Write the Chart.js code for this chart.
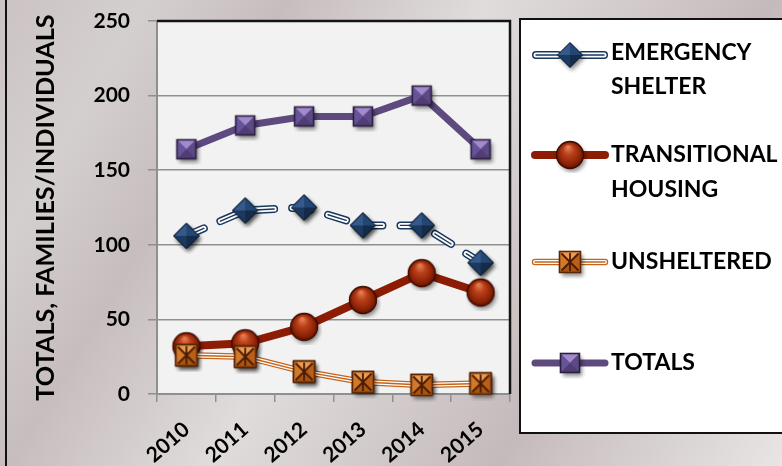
<!DOCTYPE html>
<html>
<head>
<meta charset="utf-8">
<script src="https://cdn.jsdelivr.net/npm/chart.js@4.4.1/dist/chart.umd.min.js"></script>
<style>
  html, body { margin: 0; padding: 0; background: #d8d3d3; }
  #wrap { width: 782px; height: 466px; }
</style>
</head>
<body>
<div id="wrap"><canvas id="chart" width="782" height="466"></canvas></div>
<script>
// ---- data ----
const years = ['2010', '2011', '2012', '2013', '2014', '2015'];
const emergencyShelter = [106, 123, 125, 113, 113, 88];
const transitionalHousing = [32, 34, 45, 63, 81, 68];
const unsheltered = [26, 25, 15, 8, 6, 7];
const totals = [164, 180, 186, 186, 200, 164];
const yTicks = [0, 50, 100, 150, 200, 250];
const seriesNames = [
  ['EMERGENCY', 'SHELTER'],
  ['TRANSITIONAL', 'HOUSING'],
  ['UNSHELTERED'],
  ['TOTALS']
];
const axisTitle = 'TOTALS, FAMILIES/INDIVIDUALS';

// ---- colours ----
const NAVY = '#19375c';
const RUST = '#8c1c04';
const ORANGE = '#c2641c';
const PURPLE = '#5e4a7e';
const FONT = 'Lato, "Open Sans", sans-serif';

// ---- bevelled marker sprites ----
function sprite(size, shape) {
  const c = document.createElement('canvas');
  c.width = c.height = size;
  const g = c.getContext('2d');
  g.translate(size / 2, size / 2);
  g.save();
  g.shadowColor = 'rgba(0,0,0,0.45)';
  g.shadowBlur = 4;
  g.shadowOffsetX = 2;
  g.shadowOffsetY = 3;
  shape(g, true);
  g.restore();
  shape(g, false);
  return c;
}
function tri(g, pts, fill) {
  g.beginPath();
  g.moveTo(pts[0][0], pts[0][1]);
  for (let i = 1; i < pts.length; i++) g.lineTo(pts[i][0], pts[i][1]);
  g.closePath();
  g.fillStyle = fill;
  g.fill();
}
function bevelSquare(g, h, cols, edge) {
  tri(g, [[-h, -h], [h, -h], [0, 0]], cols[0]);
  tri(g, [[h, -h], [h, h], [0, 0]], cols[1]);
  tri(g, [[h, h], [-h, h], [0, 0]], cols[2]);
  tri(g, [[-h, h], [-h, -h], [0, 0]], cols[3]);
  g.lineWidth = 1.6;
  g.strokeStyle = edge;
  g.strokeRect(-h, -h, 2 * h, 2 * h);
}

const diamondMark = sprite(36, (g, silhouette) => {
  const h = 12.5;
  if (silhouette) { tri(g, [[0, -h], [h, 0], [0, h], [-h, 0]], NAVY); return; }
  tri(g, [[-h, 0], [0, -h], [0, 0]], '#35598a');
  tri(g, [[0, -h], [h, 0], [0, 0]], '#244672');
  tri(g, [[h, 0], [0, h], [0, 0]], '#142c4a');
  tri(g, [[0, h], [-h, 0], [0, 0]], '#1c3a60');
  g.beginPath();
  g.moveTo(0, -h); g.lineTo(h, 0); g.lineTo(0, h); g.lineTo(-h, 0); g.closePath();
  g.lineWidth = 1; g.strokeStyle = '#0e1f35'; g.stroke();
});

const circleMark = sprite(36, (g, silhouette) => {
  const r = 13.5;
  g.beginPath();
  g.arc(0, 0, r, 0, Math.PI * 2);
  if (silhouette) { g.fillStyle = RUST; g.fill(); return; }
  const grad = g.createRadialGradient(-2, -8, 1, 0, 0, r);
  grad.addColorStop(0, '#e47c52');
  grad.addColorStop(0.35, '#b9401a');
  grad.addColorStop(0.8, '#8c2206');
  grad.addColorStop(1, '#5c1300');
  g.fillStyle = grad;
  g.fill();
  g.lineWidth = 1.3; g.strokeStyle = '#3e0c00'; g.stroke();
});

const crossSquareMark = sprite(34, (g, silhouette) => {
  const h = 10.5;
  if (silhouette) { g.fillStyle = ORANGE; g.fillRect(-h, -h, 2 * h, 2 * h); return; }
  bevelSquare(g, h, ['#eb9a4e', '#b95f17', '#a9540f', '#d27a2a'], '#5a2606');
  g.strokeStyle = '#4a1c04';
  g.lineWidth = 1.8;
  g.beginPath();
  g.moveTo(-h + 2, -h + 2); g.lineTo(h - 2, h - 2);
  g.moveTo(h - 2, -h + 2); g.lineTo(-h + 2, h - 2);
  g.moveTo(0, -h + 1.5); g.lineTo(0, h - 1.5);
  g.stroke();
});

const squareMark = sprite(32, (g, silhouette) => {
  const h = 9.5;
  if (silhouette) { g.fillStyle = PURPLE; g.fillRect(-h, -h, 2 * h, 2 * h); return; }
  bevelSquare(g, h, ['#a28bcd', '#5c4986', '#4f3d74', '#67539a'], '#2a203e');
});

// ---- legend layout ----
const legendRows = [55, 155, 262, 363];
const legendText = [[53, 87], [155, 190], [262], [363]];

// ---- plugins ----
const backdrop = {
  id: 'backdrop',
  beforeDraw(chart) {
    const { ctx, width, height, chartArea: a } = chart;
    ctx.save();
    const bg = ctx.createLinearGradient(0, 0, width, height);
    bg.addColorStop(0, '#ccc3c3');
    bg.addColorStop(0.14, '#d4cfcf');
    bg.addColorStop(0.27, '#c7bdbe');
    bg.addColorStop(0.46, '#e0dcdc');
    bg.addColorStop(0.73, '#c5babb');
    bg.addColorStop(1, '#e8e5e5');
    ctx.fillStyle = bg;
    ctx.fillRect(0, 0, width, height);
    ctx.fillStyle = '#f2f2f2';
    ctx.fillRect(a.left, a.top, a.right - a.left, a.bottom - a.top);
    // outer frame edge
    ctx.fillStyle = '#111';
    ctx.fillRect(5, 0, 2, height);
    ctx.restore();
  },
  beforeDatasetsDraw(chart) {
    const { ctx, chartArea: a } = chart;
    ctx.save();
    ctx.strokeStyle = '#141414';
    ctx.lineWidth = 2.5;
    ctx.beginPath();
    ctx.moveTo(a.left, a.top);
    ctx.lineTo(a.right, a.top);
    ctx.lineTo(a.right, a.bottom);
    ctx.stroke();
    ctx.restore();
  }
};

// inner strokes of the double / triple compound lines, drawn over the library line
const compound = {
  id: 'compound',
  afterDatasetDraw(chart, args) {
    const ds = chart.data.datasets[args.index];
    if (!ds.innerStrokes) return;
    const ctx = chart.ctx;
    const pts = args.meta.data;
    ctx.save();
    ds.innerStrokes.forEach(s => {
      ctx.beginPath();
      pts.forEach((p, i) => (i ? ctx.lineTo(p.x, p.y) : ctx.moveTo(p.x, p.y)));
      ctx.setLineDash(ds.borderDash || []);
      ctx.lineDashOffset = 0;
      ctx.lineCap = ds.borderCapStyle || 'butt';
      ctx.lineJoin = 'round';
      ctx.strokeStyle = s.color;
      ctx.lineWidth = s.width;
      ctx.stroke();
    });
    ctx.restore();
    pts.forEach(p => p.draw(ctx, chart.chartArea));
  }
};

function strokeSegment(ctx, x1, x2, y, color, width, cap) {
  ctx.beginPath();
  ctx.moveTo(x1, y);
  ctx.lineTo(x2, y);
  ctx.lineCap = cap;
  ctx.strokeStyle = color;
  ctx.lineWidth = width;
  ctx.stroke();
}

const legendBox = {
  id: 'legendBox',
  afterDraw(chart) {
    const ctx = chart.ctx;
    ctx.save();
    ctx.fillStyle = '#ffffff';
    ctx.fillRect(520, 19, 280, 414);
    ctx.strokeStyle = '#111';
    ctx.lineWidth = 2;
    ctx.strokeRect(520, 19, 280, 414);

    chart.data.datasets.forEach((ds, i) => {
      const y = legendRows[i];
      const segs = i === 0 ? [[536, 558], [582, 604]] : [[535, 605]];
      segs.forEach(([a, b]) => {
        strokeSegment(ctx, a, b, y, ds.borderColor, ds.borderWidth, 'round');
        (ds.innerStrokes || []).forEach(s => strokeSegment(ctx, a, b, y, s.color, s.width, 'round'));
      });
      const m = ds.pointStyle;
      ctx.drawImage(m, 570 - m.width / 2, y - m.height / 2);
      ctx.fillStyle = '#000';
      ctx.font = 'bold 23px ' + FONT;
      ctx.textBaseline = 'middle';
      ctx.textAlign = 'left';
      seriesNames[i].forEach((t, k) => ctx.fillText(t, 611, legendText[i][k]));
    });
    ctx.restore();
  }
};

// ---- chart ----
const tickFont = { family: FONT, weight: 'bold', size: 21 };

new Chart(document.getElementById('chart'), {
  type: 'line',
  data: {
    labels: years,
    datasets: [
      {
        label: seriesNames[0].join(' '),
        data: emergencyShelter,
        borderColor: NAVY,
        borderWidth: 8,
        borderDash: [19, 18],
        borderCapStyle: 'round',
        innerStrokes: [{ color: '#ffffff', width: 5 }, { color: NAVY, width: 1.4 }],
        pointStyle: diamondMark,
        pointRadius: 12,
        order: 1
      },
      {
        label: seriesNames[1].join(' '),
        data: transitionalHousing,
        borderColor: RUST,
        borderWidth: 8,
        borderCapStyle: 'round',
        pointStyle: circleMark,
        pointRadius: 13,
        order: 2
      },
      {
        label: seriesNames[2].join(' '),
        data: unsheltered,
        borderColor: ORANGE,
        borderWidth: 6.5,
        borderCapStyle: 'round',
        innerStrokes: [{ color: '#ffffff', width: 4 }, { color: ORANGE, width: 1.4 }],
        pointStyle: crossSquareMark,
        pointRadius: 11,
        order: 0
      },
      {
        label: seriesNames[3].join(' '),
        data: totals,
        borderColor: PURPLE,
        borderWidth: 7,
        borderCapStyle: 'round',
        pointStyle: squareMark,
        pointRadius: 10,
        order: 3
      }
    ]
  },
  options: {
    responsive: false,
    animation: false,
    events: [],
    devicePixelRatio: 1,
    layout: { padding: { left: 8, right: 272, top: 19, bottom: 0 } },
    elements: { line: { tension: 0, borderJoinStyle: 'round' } },
    plugins: { legend: { display: false }, tooltip: { enabled: false } },
    scales: {
      x: {
        offset: true,
        afterFit: s => { s.height = 72; },
        grid: { display: true, drawOnChartArea: false, drawTicks: true, tickLength: 8, color: '#8f8f8f', lineWidth: 1.5, offset: true },
        border: { color: '#8f8f8f', width: 2 },
        ticks: { font: tickFont, color: '#000', minRotation: 41, maxRotation: 41, padding: 15, autoSkip: false }
      },
      y: {
        min: 0,
        max: 250,
        afterBuildTicks: s => { s.ticks = yTicks.map(v => ({ value: v })); },
        afterFit: s => { s.width = 149; s.paddingTop = 12; s.paddingBottom = 0; },
        grid: { color: '#8f8f8f', lineWidth: 1.5, tickLength: 9, drawTicks: true },
        border: { color: '#8f8f8f', width: 2 },
        ticks: { font: tickFont, color: '#000', padding: 18 },
        title: {
          display: true,
          text: axisTitle,
          color: '#000',
          font: { family: FONT, weight: 'bold', size: 25.2 },
          padding: { top: 23, bottom: 0 }
        }
      }
    }
  },
  plugins: [backdrop, compound, legendBox]
});
</script>
</body>
</html>
